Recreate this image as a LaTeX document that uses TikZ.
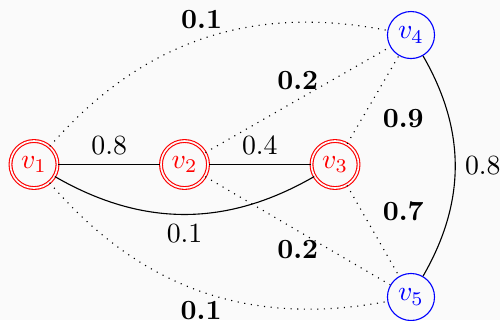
\documentclass[tikz,border=0pt]{standalone}
\definecolor{bg}{RGB}{250,250,250}
\begin{document}
\begin{tikzpicture}[
        red node/.style={draw=red, double=bg, circle, text=red, minimum size=0.595cm, inner sep=0pt},
        blue node/.style={draw=blue, circle, text=blue, minimum size=0.595cm, inner sep=0pt},
        weak/.style={dotted},
        wt/.style={font=\bfseries},
    ]
    \fill[bg] (0,0) rectangle (6.325,4.048);
    \useasboundingbox (0,0) rectangle (6.325,4.048);
    \node[red node](v1) at (0.430,1.967){$v_1$};
    \node[red node](v2) at (2.334,1.967){$v_2$};
    \node[red node](v3) at (4.238,1.967){$v_3$};
    \node[blue node](v4) at (5.199,3.605){$v_4$};
    \node[blue node](v5) at (5.199,0.291){$v_5$};
    \draw (v1) -- node[above]{0.8} (v2);
    \draw (v2) -- node[above]{0.4} (v3);
    \draw (v1) to[bend right=30] node[below]{0.1} (v3);
    \draw (v4) to[bend left=30] node[right]{0.8} (v5);
    \draw[weak] (v1) to[bend left=30] node[above,wt]{0.1} (v4);
    \draw[weak] (v2) -- node[above,wt]{0.2} (v4);
    \draw[weak] (v3) -- node[below right,wt]{0.9} (v4);
    \draw[weak] (v2) -- node[below,wt]{0.2} (v5);
    \draw[weak] (v3) -- node[above right,wt]{0.7} (v5);
    \draw[weak] (v1) to[bend right=30] node[below,wt]{0.1} (v5);
\end{tikzpicture}
\end{document}
